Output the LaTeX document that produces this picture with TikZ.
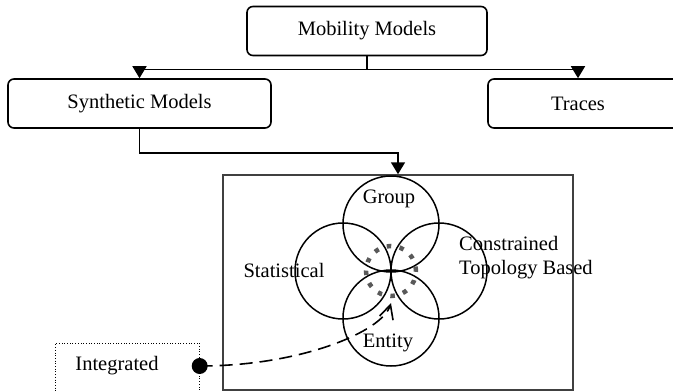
\documentclass[tikz,border=0pt]{standalone}
\usepackage{fontspec}
\setmainfont{Liberation Serif}
\usetikzlibrary{arrows.meta}

\begin{document}
\begin{tikzpicture}[%
  x = 1pt, y = -1pt,
  box/.style = {draw, rounded corners = 6pt, line width = 1.6pt, minimum height = 49pt,
    inner sep = 0pt, font = \fontsize{20.5}{24}\selectfont},
  set/.style = {circle, draw, line width = 1.5pt, minimum size = 96pt, inner sep = 0pt},
  lbl/.style = {inner sep = 0pt, font = \fontsize{20.5}{24}\selectfont},
  arr/.style = {-{Triangle[length = 12pt, width = 14pt]}, line width = 1.6pt}]
  \useasboundingbox (0, 0) rectangle (673, 391);

  % top levels
  \node[box, minimum width = 240pt] (mob) at (367, 31) {Mobility Models};
  \node[box, minimum width = 263pt] (syn) at (139.5, 103.5) {Synthetic Models};
  \node[box, minimum width = 212pt] (tra) at (594, 103.5) {};
  \node[lbl] (tratext) at (578, 103.5) {Traces};

  \draw[arr] (mob.south) -- ++(0, 13) -| (syn.north);
  \draw[arr] (mob.south) -- ++(0, 13) -| (tratext |- tra.north);

  % venn of synthetic models
  \node[draw = black!75, line width = 1.5pt, minimum width = 350pt, minimum height = 215pt,
    inner sep = 0pt] (venn) at (398, 282.5) {};
  \draw[arr] (syn.south) -- ++(0, 24) -| (venn.north);

  \node[set] (grp) at (391, 224) {};
  \node[set] (sta) at (343, 271) {};
  \node[set] (con) at (439, 271) {};
  \node[set] (ent) at (391, 318) {};
  \node[circle, draw = black!65, line width = 4.5pt, dash pattern = on 4.5pt off 8.5pt,
    minimum size = 50pt, inner sep = 0pt] (core) at (391, 271) {};

  \node[lbl] (grptext) at (389, 199) {Group};
  \node[lbl] (statext) at (284, 270) {Statistical};
  \node[lbl, anchor = west, align = left] (context) at (459, 258) {Constrained\\Topology Based};
  \node[lbl] (enttext) at (388, 343) {Entity};

  % integrated
  \node[draw, dotted, line width = 0.7pt, minimum width = 144pt, minimum height = 70pt,
    inner sep = 0pt, anchor = north west] (int) at (55, 343) {};
  \node[lbl] (inttext) at (117, 366) {Integrated};
  \node[circle, fill, minimum size = 16pt, inner sep = 0pt] (dot) at (int.east |- inttext) {};

  \draw[dash pattern = on 13pt off 7pt, line width = 1.6pt,
    -{Straight Barb[length = 14pt, width = 14pt]}]
    (dot.center) .. controls (300, 366) and (382, 332) .. (391, 303);
\end{tikzpicture}
\end{document}
